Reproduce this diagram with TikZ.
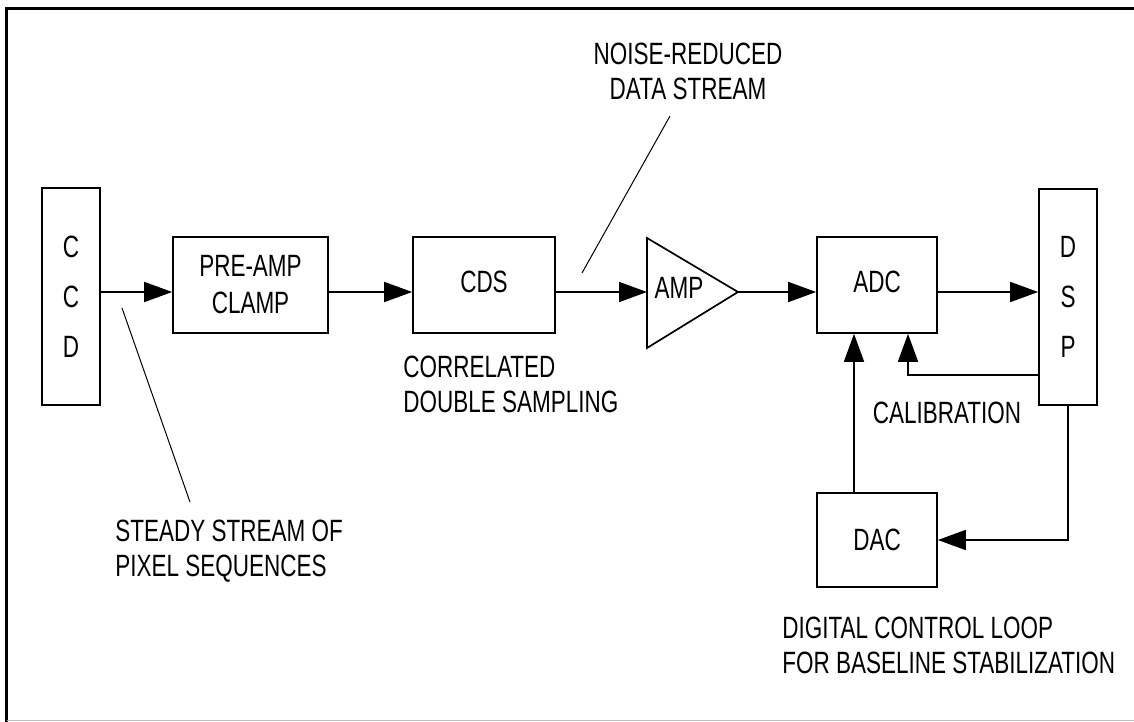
\documentclass[tikz,border=0pt]{standalone}
\usepackage{fontspec}
\setmainfont{Liberation Sans}[FakeStretch=0.73]
\usetikzlibrary{arrows.meta,calc}
\tikzset{
  lbl/.style={inner sep=0pt, font=\fontsize{15.4}{17.5}\selectfont},
  box/.style={draw, line width=0.85pt, inner sep=0pt, align=center, font=\fontsize{15.4}{18.5}\selectfont},
  tall/.style={box, font=\fontsize{15.4}{25}\selectfont},
  arr/.style={line width=0.85pt, -{Triangle[length=14pt,width=10pt]}},
  wire/.style={line width=0.85pt},
  leader/.style={line width=0.5pt}
}
\begin{document}
\begin{tikzpicture}[x=0.5pt,y=-0.5pt]
\useasboundingbox (0,0) rectangle (1134,722);
% frame
\draw[line width=1.5pt] (6.5,722) -- (6.5,8.5) -- (1134,8.5);
\draw[black!25, line width=0.5pt] (6.5,720.5) -- (1134,720.5);
% blocks
\node[tall, minimum width=29pt, minimum height=108.5pt] (ccd) at (71,296.5) {C\\C\\D};
\node[box, minimum width=77.5pt, minimum height=48pt] (pre) at (250.5,285) {PRE-AMP\\CLAMP};
\node[box, minimum width=71pt, minimum height=48pt] (cds) at (484,285) {\raisebox{3pt}{CDS}};
\node[box, minimum width=60pt, minimum height=48pt] (adc) at (877,285) {\raisebox{3pt}{ADC}};
\node[tall, minimum width=29pt, minimum height=108pt] (dsp) at (1068,297) {D\\S\\P};
\node[box, minimum width=60pt, minimum height=47pt] (dac) at (877,540) {DAC};
% amplifier triangle
\coordinate (ampin) at (647,292);
\coordinate (ampout) at (738,292);
\draw[wire, line join=miter] (647,238) -- (ampout) -- (647,348) -- cycle;
\node[lbl] (amp) at (679,288) {AMP};
% main signal line level
\coordinate (main) at (0,292);
% connectors
\draw[arr] (ccd.east |- main) -- (pre.west |- main);
\draw[arr] (pre.east |- main) -- (cds.west |- main);
\draw[arr] (cds.east |- main) -- (ampin);
\draw[arr] (ampout) -- (adc.west |- main);
\draw[arr] (adc.east |- main) -- (dsp.west |- main);
\coordinate (calx) at (908,375);
\draw[arr] (dsp.west |- calx) -| (adc.south -| calx);
\coordinate (dacx) at (854,0);
\draw[arr] (dac.north -| dacx) -- (adc.south -| dacx);
\draw[arr] (dsp.south) |- (dac.east);
% labels
\node[lbl, align=left, anchor=west] (steady) at (115,551) {STEADY STREAM OF\\PIXEL SEQUENCES};
\node[lbl, align=left, anchor=west] (corr) at (403,384) {CORRELATED\\DOUBLE SAMPLING};
\node[lbl, align=center] (noise) at (688,71) {NOISE-REDUCED\\DATA STREAM};
\node[lbl] (cal) at (947,413) {CALIBRATION};
\node[lbl, align=left, anchor=west] (loop) at (782,645) {DIGITAL CONTROL LOOP\\FOR BASELINE STABILIZATION};
% leader lines
\coordinate (l1a) at (122,308);
\coordinate (l1b) at (190,502);
\draw[leader] (l1a) -- (l1b);
\coordinate (l2a) at (670,116);
\coordinate (l2b) at (582,273);
\draw[leader] (l2a) -- (l2b);
\end{tikzpicture}
\end{document}
